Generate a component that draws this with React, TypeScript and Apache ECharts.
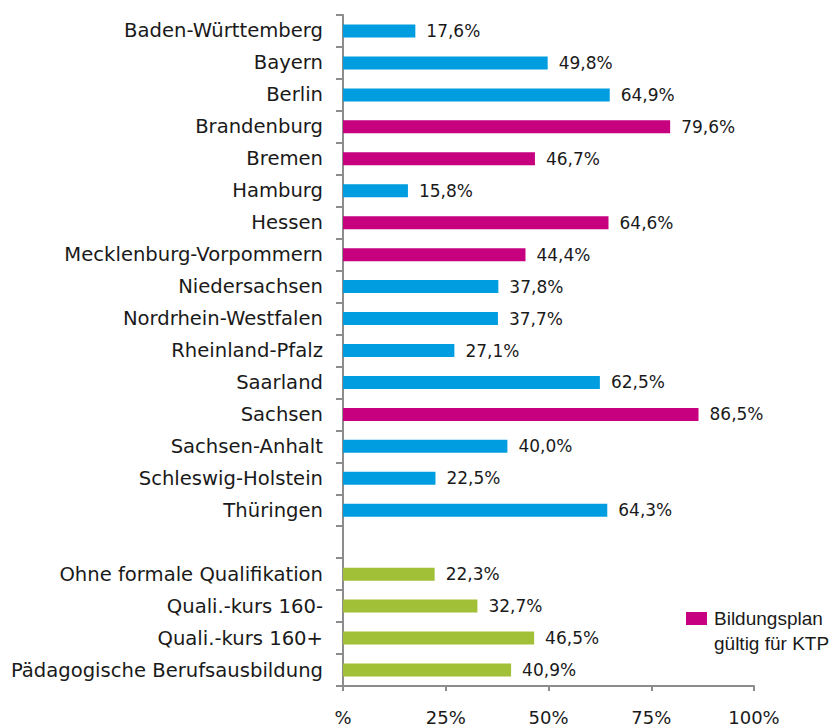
import React, { useEffect, useRef } from "react";
import * as echarts from "echarts";

const categories = [
  "Baden-Württemberg",
  "Bayern",
  "Berlin",
  "Brandenburg",
  "Bremen",
  "Hamburg",
  "Hessen",
  "Mecklenburg-Vorpommern",
  "Niedersachsen",
  "Nordrhein-Westfalen",
  "Rheinland-Pfalz",
  "Saarland",
  "Sachsen",
  "Sachsen-Anhalt",
  "Schleswig-Holstein",
  "Thüringen",
  "",
  "Ohne formale Qualifikation",
  "Quali.-kurs 160-",
  "Quali.-kurs 160+",
  "Pädagogische Berufsausbildung",
];

// Länder without a binding Bildungsplan for KTP (blue)
const blueValues = [17.6, 49.8, 64.9, null, null, 15.8, null, null, 37.8, 37.7, 27.1, 62.5, null, 40.0, 22.5, 64.3, null, null, null, null, null];
// Länder with Bildungsplan gültig für KTP (magenta)
const magentaValues = [null, null, null, 79.6, 46.7, null, 64.6, 44.4, null, null, null, null, 86.5, null, null, null, null, null, null, null, null];
// Qualification groups (green)
const greenValues = [null, null, null, null, null, null, null, null, null, null, null, null, null, null, null, null, null, 22.3, 32.7, 46.5, 40.9];

const legendLines = ["Bildungsplan", "gültig für KTP"];

const BLUE = "#009EE0";
const MAGENTA = "#C6007E";
const GREEN = "#A1C037";
const FONT = "DejaVu Sans";

export default function App() {
  const ref = useRef<HTMLDivElement>(null);
  useEffect(() => {
    if (!ref.current) return;
    const chart = echarts.init(ref.current, undefined, { renderer: "svg" });
    const label = {
      show: true,
      position: "right",
      distance: 11,
      fontFamily: FONT,
      fontSize: 17,
      color: "#1a1a1a",
      formatter: (p: any) => p.value.toFixed(1).replace(".", ",") + "%",
    };
    const mk = (name: string, data: (number | null)[], color: string) => ({
      name,
      type: "bar",
      stack: "all",
      data,
      barWidth: 13,
      itemStyle: { color },
      label,
    });
    chart.setOption({
      animation: false,
      backgroundColor: "#ffffff",
      grid: { left: 343, right: 81, top: 15, bottom: 39, containLabel: false },
      graphic: [
        { type: "rect", left: 686, top: 612, shape: { width: 21, height: 13 }, style: { fill: MAGENTA } },
        {
          type: "text",
          left: 714,
          top: 606,
          style: {
            text: legendLines.join("\n"),
            fontFamily: "Liberation Sans",
            fontSize: 19,
            lineHeight: 25,
            fill: "#1a1a1a",
          },
        },
      ],
      xAxis: {
        type: "value",
        min: 0,
        max: 100,
        interval: 25,
        axisLine: { show: true, lineStyle: { color: "#8c8c8c", width: 2 } },
        axisTick: { show: true, length: 5, lineStyle: { color: "#8c8c8c", width: 2 } },
        splitLine: { show: false },
        axisLabel: {
          margin: 22,
          fontFamily: FONT,
          fontSize: 18,
          color: "#1a1a1a",
          formatter: (v: number) => (v === 0 ? "%" : v + "%"),
        },
      },
      yAxis: {
        type: "category",
        inverse: true,
        data: categories,
        axisLine: { show: true, lineStyle: { color: "#8c8c8c", width: 2 } },
        axisTick: { show: true, length: 7, alignWithLabel: false, lineStyle: { color: "#8c8c8c", width: 2 } },
        axisLabel: {
          margin: 20,
          fontFamily: FONT,
          fontSize: 19.6,
          color: "#1a1a1a",
          interval: 0,
        },
      },
      series: [
        mk("Blau", blueValues, BLUE),
        mk("Bildungsplan gültig für KTP", magentaValues, MAGENTA),
        mk("Grün", greenValues, GREEN),
      ],
    });
    return () => chart.dispose();
  }, []);
  return <div ref={ref} style={{ position: "fixed", left: 0, top: 0, width: 835, height: 726 }} />;
}
